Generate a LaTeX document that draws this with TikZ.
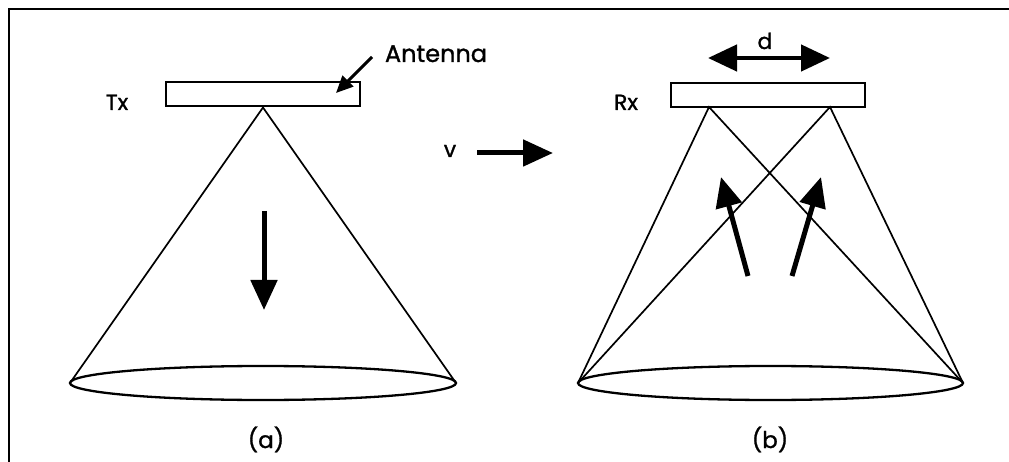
\documentclass[tikz,border=0pt]{standalone}
\usepackage{fontspec}
\setmainfont{Poppins}[FakeBold=1.2]
\usetikzlibrary{arrows.meta}
\tikzset{
  thin line/.style={line width=1.7pt},
  antbox/.style={draw, line width=2pt, minimum width=194pt, minimum height=24pt, inner sep=0pt},
  bigarrow/.style={line width=5pt, -{Triangle[length=30pt,width=26pt]}},
  dblarrow/.style={line width=4.5pt, {Triangle[length=29pt,width=26pt]}-{Triangle[length=29pt,width=26pt]}},
  smallarrow/.style={line width=3pt, -{Triangle[length=17pt,width=15pt]}},
  lbl/.style={font=\fontsize{22}{26}\selectfont, inner sep=0pt, anchor=base},
}
\begin{document}
\begin{tikzpicture}[x=1pt,y=-1pt]
\useasboundingbox (0,0) rectangle (1009,462);
% frame (partial)
\draw[line width=2.4pt] (9,462) -- (9,9) -- (1009,9);

% ----- (a) -----
\node[antbox] (tx) at (263,94.5) {};
\node[lbl] (txl) at (117,110) {Tx};
\node[lbl, font=\fontsize{24}{28}\selectfont] (antl) at (436,62) {Antenna};
\coordinate (antt) at (372,57);
\coordinate (anth) at (336,93);
\draw[smallarrow] (antt) -- (anth);
\coordinate (a1) at (70,383);
\coordinate (a2) at (456,383);
\draw[line width=2.3pt] (263,383) ellipse [x radius=193, y radius=17];
\draw[thin line] (a1) -- (tx.south) -- (a2);
\coordinate (dn1) at (264,211);
\coordinate (dn2) at (264,310);
\draw[bigarrow] (dn1) -- (dn2);
\node[lbl, font=\fontsize{23}{27}\selectfont] (la) at (266,448) {(a)};

% ----- velocity -----
\node[lbl] (vl) at (450,157) {v};
\coordinate (v1) at (477,153);
\coordinate (v2) at (553,153);
\draw[bigarrow] (v1) -- (v2);

% ----- (b) -----
\node[antbox] (rx) at (768,95) {};
\node[lbl] (rxl) at (626,110) {Rx};
\coordinate (f1) at (709,107);
\coordinate (f2) at (830,107);
\coordinate (b1) at (578,383);
\coordinate (b2) at (963,383);
\draw[line width=2.3pt] (770.5,383) ellipse [x radius=192.5, y radius=17];
\draw[thin line] (b1) -- (f1) -- (b2);
\draw[thin line] (b1) -- (f2) -- (b2);
\coordinate (d1) at (708,58);
\coordinate (d2) at (830,58);
\draw[dblarrow] (d1) -- (d2);
\node[lbl] (dl) at (765,49) {d};
\coordinate (u1a) at (748,276);
\coordinate (u1b) at (721,177);
\coordinate (u2a) at (792,276);
\coordinate (u2b) at (821,177);
\draw[bigarrow] (u1a) -- (u1b);
\draw[bigarrow] (u2a) -- (u2b);
\node[lbl, font=\fontsize{23}{27}\selectfont] (lb) at (770,448) {(b)};
\end{tikzpicture}
\end{document}
